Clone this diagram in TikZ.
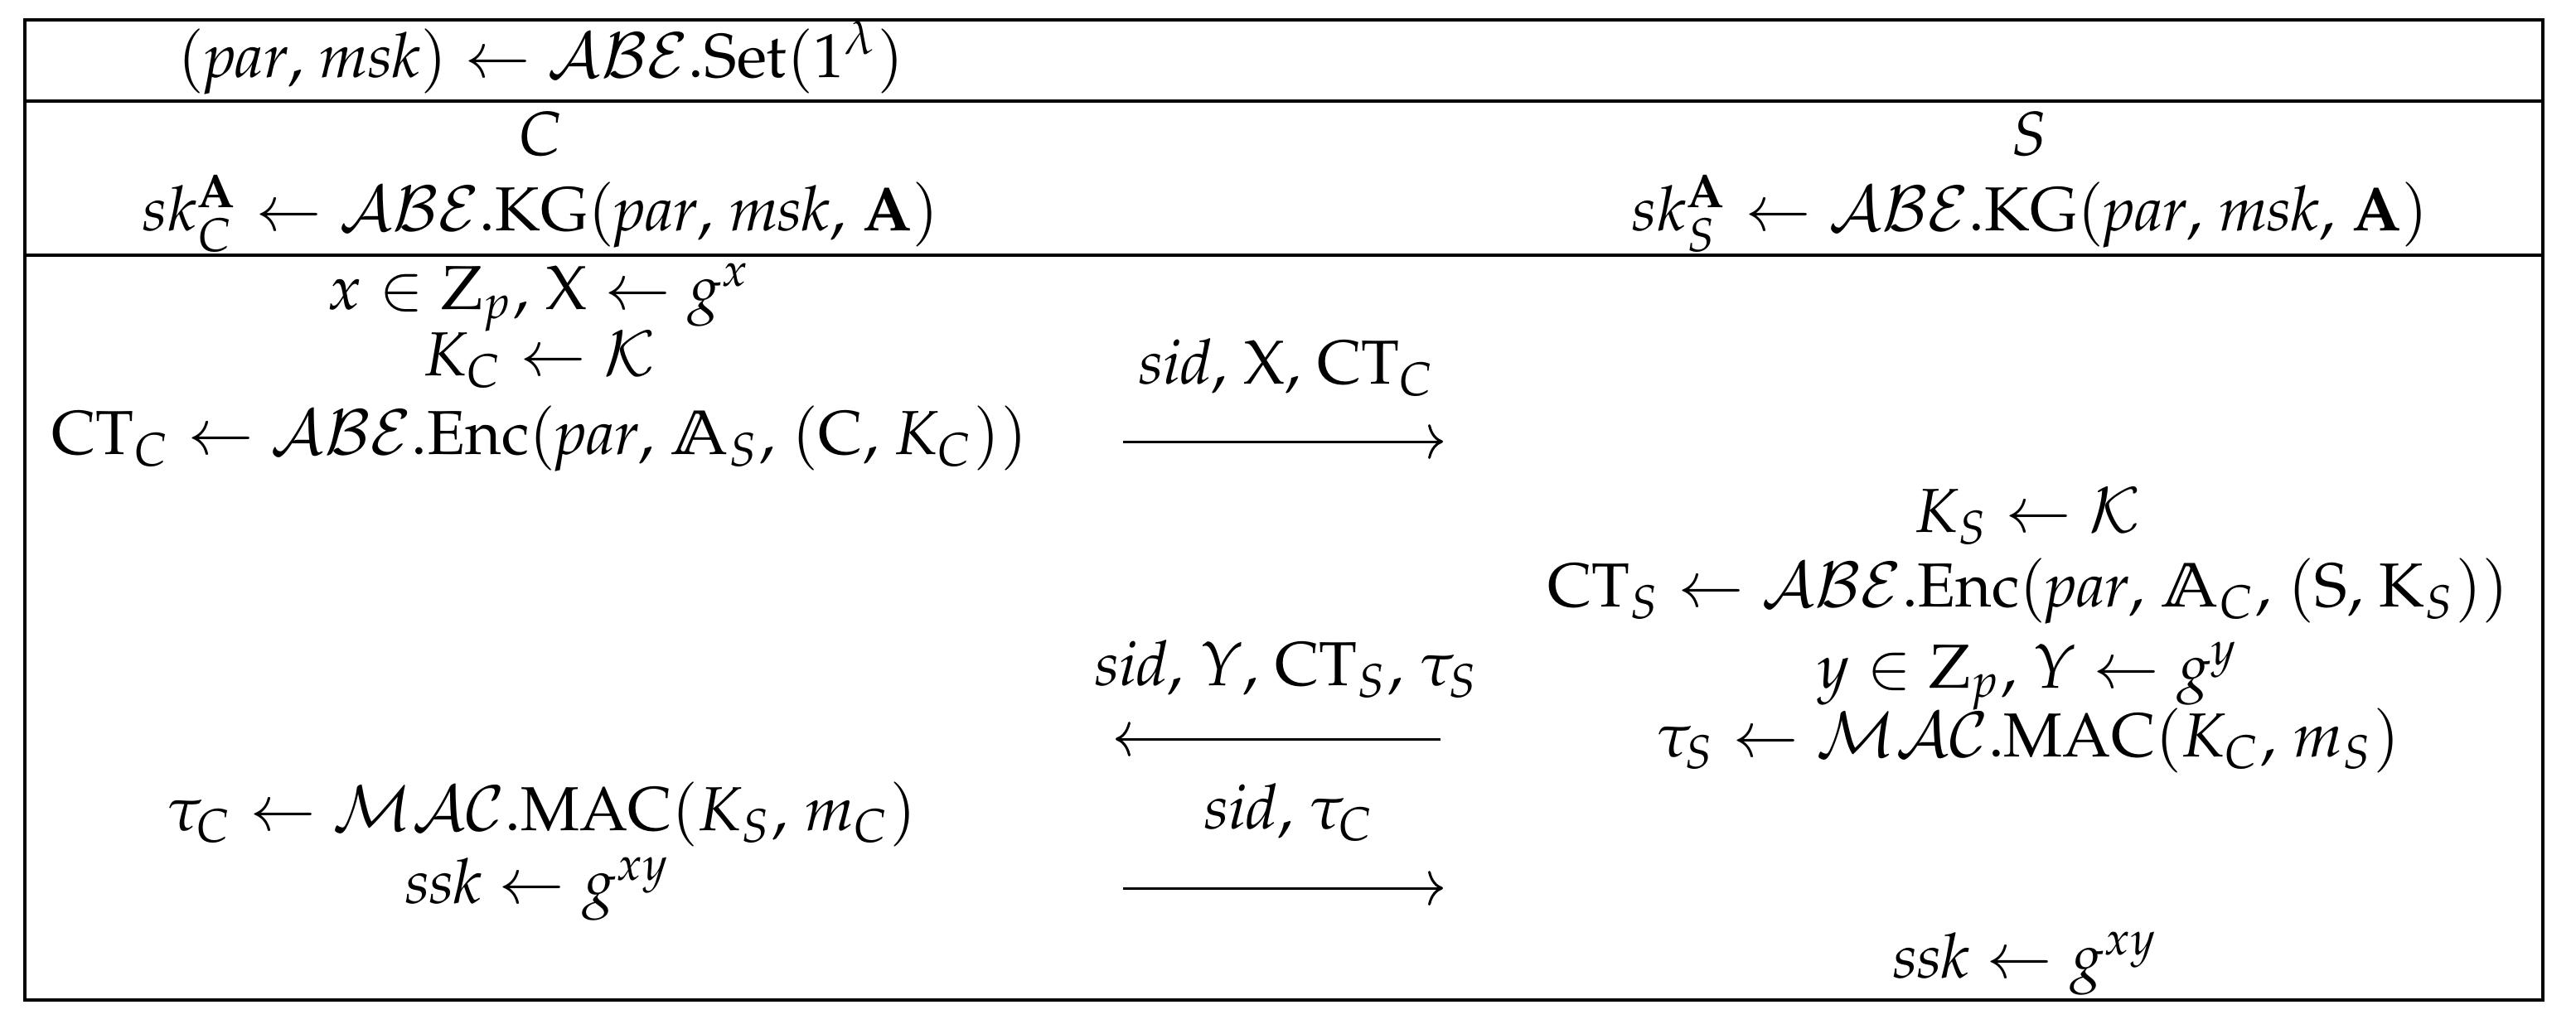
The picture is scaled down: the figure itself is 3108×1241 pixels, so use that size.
\documentclass[tikz,border=0pt]{standalone}
\usepackage{mathpazo}
\usetikzlibrary{arrows.meta}

\newcommand{\kom}{,\mskip 1.8mu}

\tikzset{
  txt/.style={anchor=base, inner sep=0pt, font=\fontsize{10}{12}\selectfont},
  msgarrow/.style={line width=0.4pt, -{Computer Modern Rightarrow[length=2.4pt,width=5.6pt]}},
  rule/.style={line width=0.45pt}
}

\begin{document}
\begin{tikzpicture}[x=0.1333pt, y=-0.1333pt]

		\useasboundingbox (0,0) rectangle (3108,1241);

		% Rahmen und Trennlinien
		\draw [rule] (30,24) rectangle (3068,1207); % aussen
		\draw [rule] (30,122)--(3068,122); % unter Setup
		\draw [rule] (30,308)--(3068,308); % unter Schluesseln

		% Setup
		\node[txt] (setup) at (653,93) {$(\mathit{par}\kom \mathit{msk}) \leftarrow \mathcal{ABE}.\mathrm{Set}(1^{\lambda})$};

		% Parteien
		\node[txt] (cli) at (652,187) {$C$};
		\node[txt] (srv) at (2448,187) {$S$};
		\node[txt] (skC) at (652,278) {$sk_C^{\mathbf{A}} \leftarrow \mathcal{ABE}.\mathrm{KG}(\mathit{par}\kom \mathit{msk}\kom \mathbf{A})$};
		\node[txt] (skS) at (2449,278) {$sk_S^{\mathbf{A}} \leftarrow \mathcal{ABE}.\mathrm{KG}(\mathit{par}\kom \mathit{msk}\kom \mathbf{A})$};

		% Client
		\node[txt] (xC) at (651,373) {$x \in \mathrm{Z}_p\kom \mathrm{X} \leftarrow g^x$};
		\node[txt] (kC) at (651,453) {$K_C \leftarrow \mathcal{K}$};
		\node[txt] (ctC) at (651,548) {$\mathrm{CT}_C \leftarrow \mathcal{ABE}.\mathrm{Enc}(\mathit{par}\kom \mathbb{A}_S\kom (\mathrm{C}\kom K_C))$};
		\node[txt] (tauC) at (654,1002) {$\tau_C \leftarrow \mathcal{MAC}.\mathrm{MAC}(K_S\kom m_C)$};
		\node[txt] (sskC) at (649,1090) {$\mathit{ssk} \leftarrow g^{xy}$};

		% Server
		\node[txt] (kS) at (2447,642) {$K_S \leftarrow \mathcal{K}$};
		\node[txt] (ctS) at (2447,732) {$\mathrm{CT}_S \leftarrow \mathcal{ABE}.\mathrm{Enc}(\mathit{par}\kom \mathbb{A}_C\kom (\mathrm{S}\kom \mathrm{K}_S))$};
		\node[txt] (yS) at (2447,830) {$y \in \mathrm{Z}_p\kom Y \leftarrow g^y$};
		\node[txt] (tauS) at (2447,913) {$\tau_S \leftarrow \mathcal{MAC}.\mathrm{MAC}(K_C\kom m_S)$};
		\node[txt] (sskS) at (2444,1180) {$\mathit{ssk} \leftarrow g^{xy}$};

		% Nachrichten
		\node[txt] (m1) at (1553,463) {$\mathit{sid}\kom \mathrm{X}\kom \mathrm{CT}_C$};
		\node[txt] (m2) at (1553,827) {$\mathit{sid}\kom Y\kom \mathrm{CT}_S\kom \tau_S$};
		\node[txt] (m3) at (1556,1000) {$\mathit{sid}\kom \tau_C$};

		\coordinate (m1a) at (1355,533);
		\coordinate (m1b) at (1741,533);
		\coordinate (m2a) at (1738,892);
		\coordinate (m2b) at (1346,892);
		\coordinate (m3a) at (1355,1072);
		\coordinate (m3b) at (1741,1072);

		\draw [msgarrow] (m1a)--(m1b); % C an S
		\draw [msgarrow] (m2a)--(m2b); % S an C
		\draw [msgarrow] (m3a)--(m3b); % C an S

	\end{tikzpicture}
\end{document}
